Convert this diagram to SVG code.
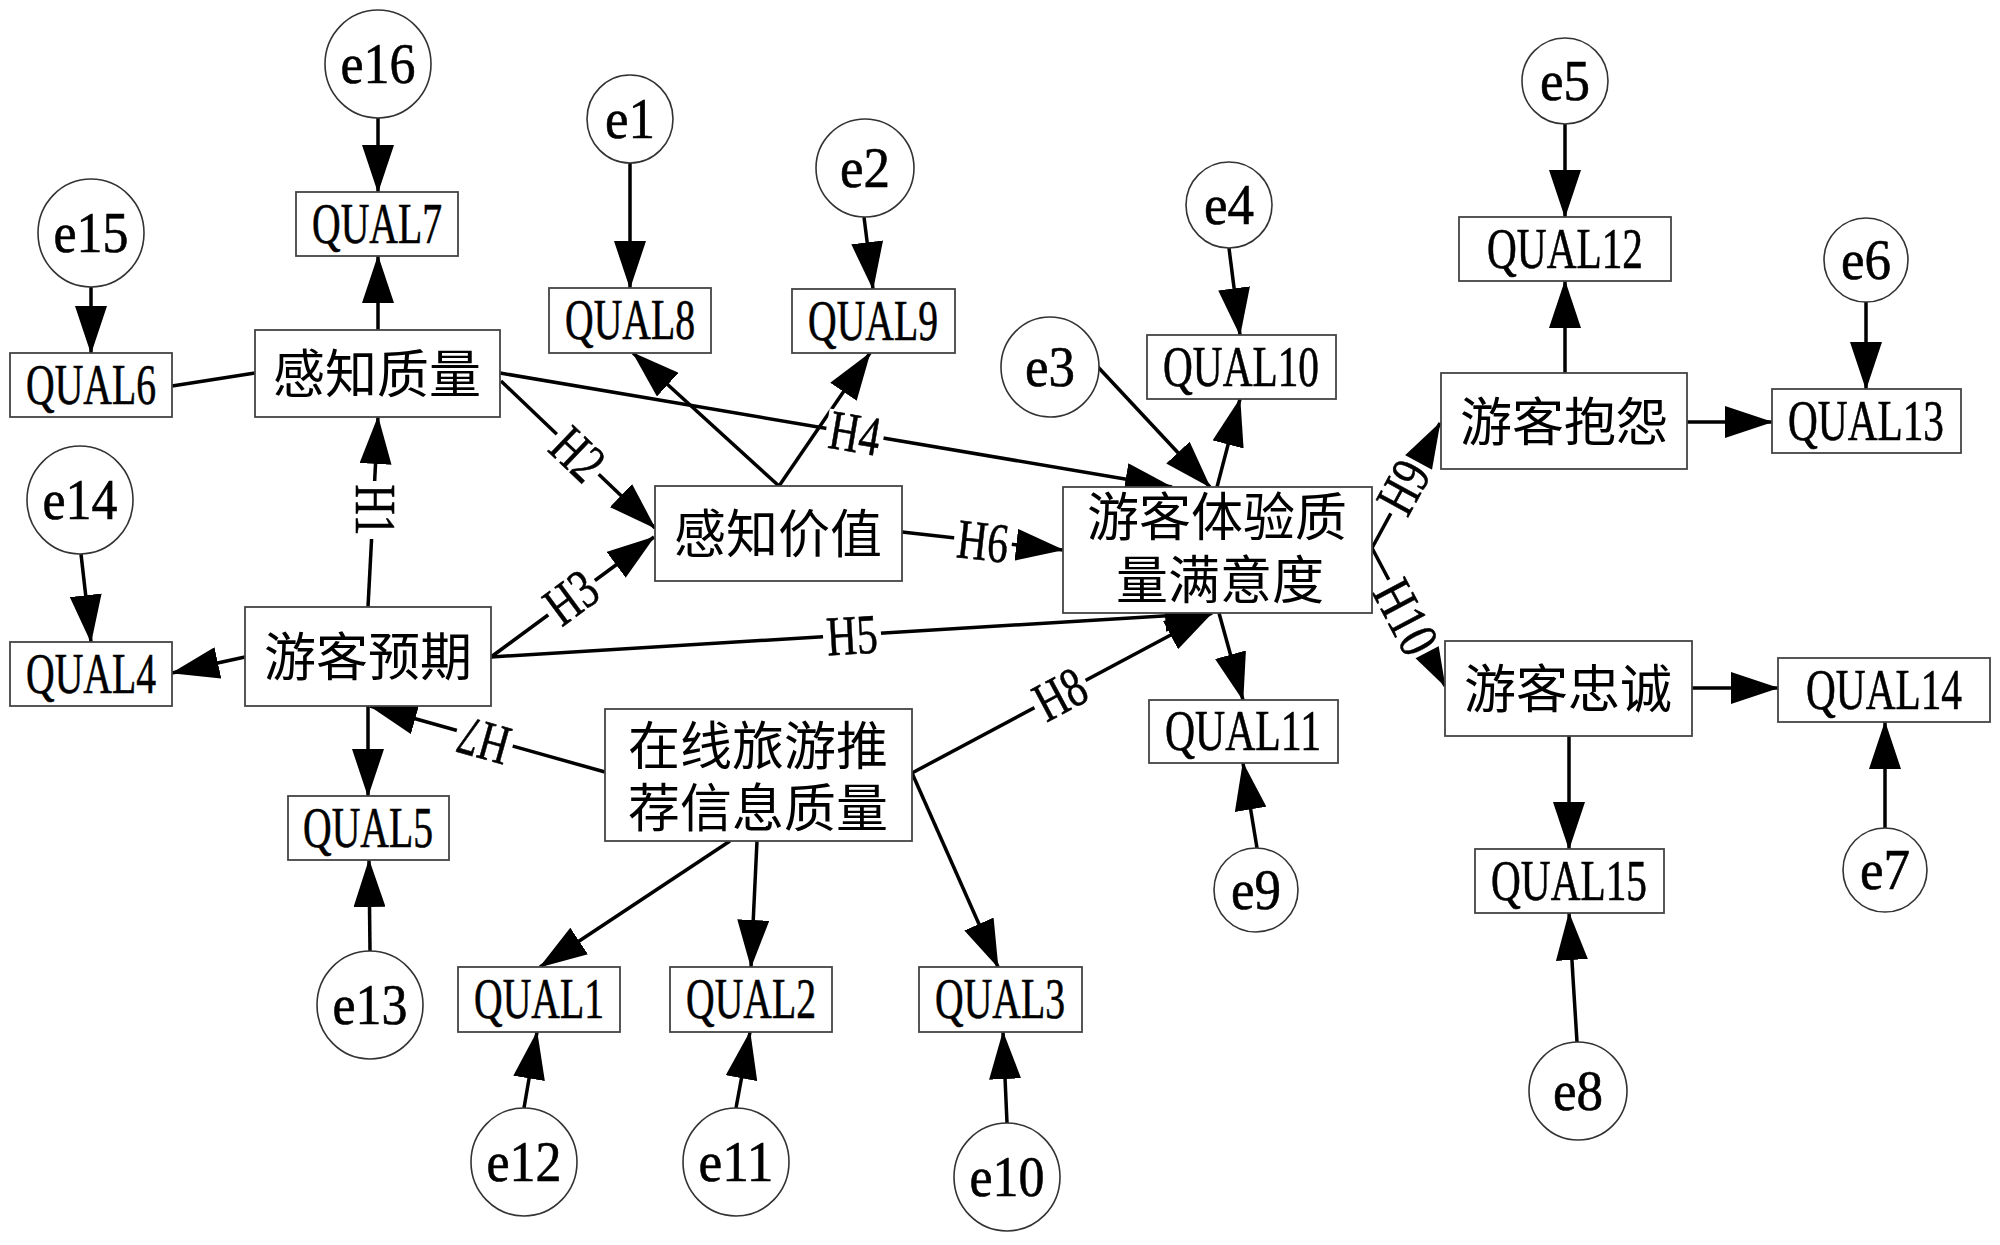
<svg xmlns="http://www.w3.org/2000/svg" width="2000" height="1245" viewBox="0 0 2000 1245">
<defs>
<marker id="ah" markerUnits="userSpaceOnUse" markerWidth="48" markerHeight="32" refX="47" refY="16" orient="auto" viewBox="0 0 48 32"><path d="M0,0 L48,16 L0,32 z" fill="#000"/></marker>
<style>
.box{fill:#fff;stroke:#444;stroke-width:1.8}
.el{fill:#fff;stroke:#333;stroke-width:1.6}
.q{font-family:"Liberation Serif",serif;font-size:56px;text-anchor:middle;dominant-baseline:central;fill:#000;stroke:#000;stroke-width:0.6}
.c{font-family:"Noto Sans CJK SC","Noto Sans CJK JP",sans-serif;font-size:52px;text-anchor:middle;fill:#000}
.ln{stroke:#000;stroke-width:3.5;fill:none}
.ar{stroke:#000;stroke-width:3.5;fill:none;marker-end:url(#ah)}
.bg{fill:#fff}
</style>
</defs>
<rect width="2000" height="1245" fill="#fff"/>
<g id="connectors">
<line class="ar" x1="378" y1="118" x2="378" y2="192"/>
<line class="ar" x1="91" y1="287" x2="91" y2="353"/>
<line class="ar" x1="378" y1="330" x2="378" y2="256"/>
<line class="ln" x1="172" y1="386" x2="255" y2="373"/>
<line class="ar" x1="630" y1="162" x2="630" y2="288"/>
<line class="ar" x1="864" y1="217" x2="873" y2="289"/>
<line class="ar" x1="779" y1="486" x2="633" y2="353"/>
<line class="ar" x1="779" y1="486" x2="870" y2="353"/>
<line class="ar" x1="81" y1="554" x2="91" y2="642"/>
<line class="ar" x1="245" y1="657" x2="172" y2="673"/>
<line class="ar" x1="368" y1="607" x2="378" y2="417"/>
<line class="ar" x1="368" y1="706" x2="368" y2="796"/>
<line class="ar" x1="370" y1="951" x2="369" y2="860"/>
<line class="ar" x1="605" y1="772" x2="370" y2="706"/>
<line class="ar" x1="501" y1="381" x2="655" y2="528"/>
<line class="ar" x1="491" y1="657" x2="654" y2="537"/>
<line class="ar" x1="500" y1="373" x2="1172" y2="487"/>
<line class="ar" x1="491" y1="657" x2="1212" y2="613"/>
<line class="ar" x1="902" y1="532" x2="1063" y2="550"/>
<line class="ar" x1="912" y1="773" x2="1212" y2="613"/>
<line class="ar" x1="730" y1="841" x2="540" y2="967"/>
<line class="ar" x1="757" y1="841" x2="751" y2="967"/>
<line class="ar" x1="912" y1="773" x2="998" y2="967"/>
<line class="ar" x1="524" y1="1108" x2="537" y2="1032"/>
<line class="ar" x1="736" y1="1108" x2="750" y2="1032"/>
<line class="ar" x1="1007" y1="1123" x2="1003" y2="1032"/>
<line class="ar" x1="1098" y1="367" x2="1210" y2="487"/>
<line class="ar" x1="1229" y1="248" x2="1240" y2="335"/>
<line class="ar" x1="1217" y1="487" x2="1240" y2="399"/>
<line class="ar" x1="1219" y1="613" x2="1243" y2="700"/>
<line class="ar" x1="1257" y1="848" x2="1243" y2="763"/>
<line class="ar" x1="1372" y1="548" x2="1440" y2="423"/>
<line class="ar" x1="1372" y1="548" x2="1445" y2="686"/>
<line class="ar" x1="1565" y1="373" x2="1565" y2="281"/>
<line class="ar" x1="1565" y1="124" x2="1565" y2="217"/>
<line class="ar" x1="1687" y1="422" x2="1772" y2="422"/>
<line class="ar" x1="1866" y1="302" x2="1866" y2="389"/>
<line class="ar" x1="1692" y1="688" x2="1778" y2="688"/>
<line class="ar" x1="1569" y1="736" x2="1569" y2="849"/>
<line class="ar" x1="1577" y1="1042" x2="1569" y2="913"/>
<line class="ar" x1="1885" y1="828" x2="1885" y2="722"/>
<g transform="translate(375,510) rotate(90)"><rect class="bg" x="-29" y="-20" width="58" height="40"/><text class="q" x="0" y="0" textLength="51" lengthAdjust="spacingAndGlyphs">H1</text></g>
<g transform="translate(578,454) rotate(43.7)"><rect class="bg" x="-29" y="-20" width="58" height="40"/><text class="q" x="0" y="0" textLength="51" lengthAdjust="spacingAndGlyphs">H2</text></g>
<g transform="translate(571,597) rotate(-36.4)"><rect class="bg" x="-29" y="-20" width="58" height="40"/><text class="q" x="0" y="0" textLength="51" lengthAdjust="spacingAndGlyphs">H3</text></g>
<g transform="translate(855,433) rotate(9.6)"><rect class="bg" x="-29" y="-20" width="58" height="40"/><text class="q" x="0" y="0" textLength="51" lengthAdjust="spacingAndGlyphs">H4</text></g>
<g transform="translate(852,635) rotate(-3.5)"><rect class="bg" x="-29" y="-20" width="58" height="40"/><text class="q" x="0" y="0" textLength="51" lengthAdjust="spacingAndGlyphs">H5</text></g>
<g transform="translate(983,541) rotate(6.4)"><rect class="bg" x="-29" y="-20" width="58" height="40"/><text class="q" x="0" y="0" textLength="51" lengthAdjust="spacingAndGlyphs">H6</text></g>
<g transform="translate(484,741) rotate(195.7)"><rect class="bg" x="-29" y="-20" width="58" height="40"/><text class="q" x="0" y="0" textLength="51" lengthAdjust="spacingAndGlyphs">H7</text></g>
<g transform="translate(1060,694) rotate(-28.1)"><rect class="bg" x="-29" y="-20" width="58" height="40"/><text class="q" x="0" y="0" textLength="51" lengthAdjust="spacingAndGlyphs">H8</text></g>
<g transform="translate(1403,487) rotate(-61.4)"><rect class="bg" x="-29" y="-20" width="58" height="40"/><text class="q" x="0" y="0" textLength="51" lengthAdjust="spacingAndGlyphs">H9</text></g>
<g transform="translate(1406,617) rotate(62.1)"><rect class="bg" x="-41" y="-20" width="82" height="40"/><text class="q" x="0" y="0" textLength="76" lengthAdjust="spacingAndGlyphs">H10</text></g>
</g>
<g id="e16"><ellipse class="el" cx="378" cy="64" rx="53" ry="54"/><text class="q" x="378" y="64" textLength="75" lengthAdjust="spacingAndGlyphs">e16</text></g>
<g id="e15"><ellipse class="el" cx="91" cy="233" rx="53" ry="54"/><text class="q" x="91" y="233" textLength="75" lengthAdjust="spacingAndGlyphs">e15</text></g>
<g id="e14"><ellipse class="el" cx="80" cy="500" rx="53" ry="54"/><text class="q" x="80" y="500" textLength="75" lengthAdjust="spacingAndGlyphs">e14</text></g>
<g id="e13"><ellipse class="el" cx="370" cy="1005" rx="53" ry="54"/><text class="q" x="370" y="1005" textLength="75" lengthAdjust="spacingAndGlyphs">e13</text></g>
<g id="e12"><ellipse class="el" cx="524" cy="1162" rx="53" ry="54"/><text class="q" x="524" y="1162" textLength="75" lengthAdjust="spacingAndGlyphs">e12</text></g>
<g id="e11"><ellipse class="el" cx="736" cy="1162" rx="53" ry="54"/><text class="q" x="736" y="1162" textLength="75" lengthAdjust="spacingAndGlyphs">e11</text></g>
<g id="e10"><ellipse class="el" cx="1007" cy="1177" rx="53" ry="54"/><text class="q" x="1007" y="1177" textLength="75" lengthAdjust="spacingAndGlyphs">e10</text></g>
<g id="e1"><ellipse class="el" cx="630" cy="119" rx="43" ry="44"/><text class="q" x="630" y="119" textLength="50" lengthAdjust="spacingAndGlyphs">e1</text></g>
<g id="e2"><ellipse class="el" cx="865" cy="168" rx="49" ry="49"/><text class="q" x="865" y="168" textLength="50" lengthAdjust="spacingAndGlyphs">e2</text></g>
<g id="e3"><ellipse class="el" cx="1050" cy="367" rx="49" ry="50"/><text class="q" x="1050" y="367" textLength="50" lengthAdjust="spacingAndGlyphs">e3</text></g>
<g id="e4"><ellipse class="el" cx="1229" cy="205" rx="43" ry="43"/><text class="q" x="1229" y="205" textLength="50" lengthAdjust="spacingAndGlyphs">e4</text></g>
<g id="e5"><ellipse class="el" cx="1565" cy="81" rx="43" ry="43"/><text class="q" x="1565" y="81" textLength="50" lengthAdjust="spacingAndGlyphs">e5</text></g>
<g id="e6"><ellipse class="el" cx="1866" cy="260" rx="42" ry="42"/><text class="q" x="1866" y="260" textLength="50" lengthAdjust="spacingAndGlyphs">e6</text></g>
<g id="e7"><ellipse class="el" cx="1885" cy="870" rx="42" ry="42"/><text class="q" x="1885" y="870" textLength="50" lengthAdjust="spacingAndGlyphs">e7</text></g>
<g id="e8"><ellipse class="el" cx="1578" cy="1091" rx="49" ry="49"/><text class="q" x="1578" y="1091" textLength="50" lengthAdjust="spacingAndGlyphs">e8</text></g>
<g id="e9"><ellipse class="el" cx="1256" cy="890" rx="42" ry="42"/><text class="q" x="1256" y="890" textLength="50" lengthAdjust="spacingAndGlyphs">e9</text></g>
<g id="QUAL7"><rect class="box" x="296" y="192" width="162" height="64"/><text class="q" x="377" y="224" textLength="130" lengthAdjust="spacingAndGlyphs">QUAL7</text></g>
<g id="QUAL6"><rect class="box" x="10" y="353" width="162" height="64"/><text class="q" x="91" y="385" textLength="130" lengthAdjust="spacingAndGlyphs">QUAL6</text></g>
<g id="QUAL8"><rect class="box" x="549" y="288" width="162" height="65"/><text class="q" x="630" y="320" textLength="130" lengthAdjust="spacingAndGlyphs">QUAL8</text></g>
<g id="QUAL9"><rect class="box" x="792" y="289" width="163" height="64"/><text class="q" x="873" y="321" textLength="130" lengthAdjust="spacingAndGlyphs">QUAL9</text></g>
<g id="QUAL4"><rect class="box" x="10" y="642" width="162" height="64"/><text class="q" x="91" y="674" textLength="130" lengthAdjust="spacingAndGlyphs">QUAL4</text></g>
<g id="QUAL5"><rect class="box" x="288" y="796" width="161" height="64"/><text class="q" x="368" y="828" textLength="130" lengthAdjust="spacingAndGlyphs">QUAL5</text></g>
<g id="QUAL1"><rect class="box" x="458" y="967" width="162" height="65"/><text class="q" x="539" y="999" textLength="130" lengthAdjust="spacingAndGlyphs">QUAL1</text></g>
<g id="QUAL2"><rect class="box" x="670" y="967" width="162" height="65"/><text class="q" x="751" y="999" textLength="130" lengthAdjust="spacingAndGlyphs">QUAL2</text></g>
<g id="QUAL3"><rect class="box" x="919" y="967" width="163" height="65"/><text class="q" x="1000" y="999" textLength="130" lengthAdjust="spacingAndGlyphs">QUAL3</text></g>
<g id="QUAL10"><rect class="box" x="1147" y="335" width="189" height="64"/><text class="q" x="1241" y="367" textLength="156" lengthAdjust="spacingAndGlyphs">QUAL10</text></g>
<g id="QUAL11"><rect class="box" x="1149" y="700" width="189" height="63"/><text class="q" x="1243" y="731" textLength="156" lengthAdjust="spacingAndGlyphs">QUAL11</text></g>
<g id="QUAL12"><rect class="box" x="1459" y="217" width="212" height="64"/><text class="q" x="1565" y="249" textLength="156" lengthAdjust="spacingAndGlyphs">QUAL12</text></g>
<g id="QUAL13"><rect class="box" x="1772" y="389" width="189" height="64"/><text class="q" x="1866" y="421" textLength="156" lengthAdjust="spacingAndGlyphs">QUAL13</text></g>
<g id="QUAL14"><rect class="box" x="1778" y="658" width="212" height="64"/><text class="q" x="1884" y="690" textLength="156" lengthAdjust="spacingAndGlyphs">QUAL14</text></g>
<g id="QUAL15"><rect class="box" x="1475" y="849" width="189" height="64"/><text class="q" x="1569" y="881" textLength="156" lengthAdjust="spacingAndGlyphs">QUAL15</text></g>
<g id="perceived-quality"><rect class="box" x="255" y="330" width="245" height="87"/><text class="c" x="377" y="393">感知质量</text></g>
<g id="tourist-expectation"><rect class="box" x="245" y="607" width="246" height="99"/><text class="c" x="368" y="676">游客预期</text></g>
<g id="perceived-value"><rect class="box" x="655" y="486" width="247" height="95"/><text class="c" x="778" y="553">感知价值</text></g>
<g id="online-info-quality"><rect class="box" x="605" y="709" width="307" height="132"/><text class="c"><tspan x="758" y="765">在线旅游推</tspan><tspan x="758" y="827">荐信息质量</tspan></text></g>
<g id="experience-satisfaction"><rect class="box" x="1063" y="487" width="309" height="126"/><text class="c"><tspan x="1217" y="536">游客体验质</tspan><tspan x="1220" y="599">量满意度</tspan></text></g>
<g id="tourist-complaint"><rect class="box" x="1441" y="373" width="246" height="96"/><text class="c" x="1564" y="441">游客抱怨</text></g>
<g id="tourist-loyalty"><rect class="box" x="1445" y="641" width="247" height="95"/><text class="c" x="1568" y="708">游客忠诚</text></g>
</svg>
